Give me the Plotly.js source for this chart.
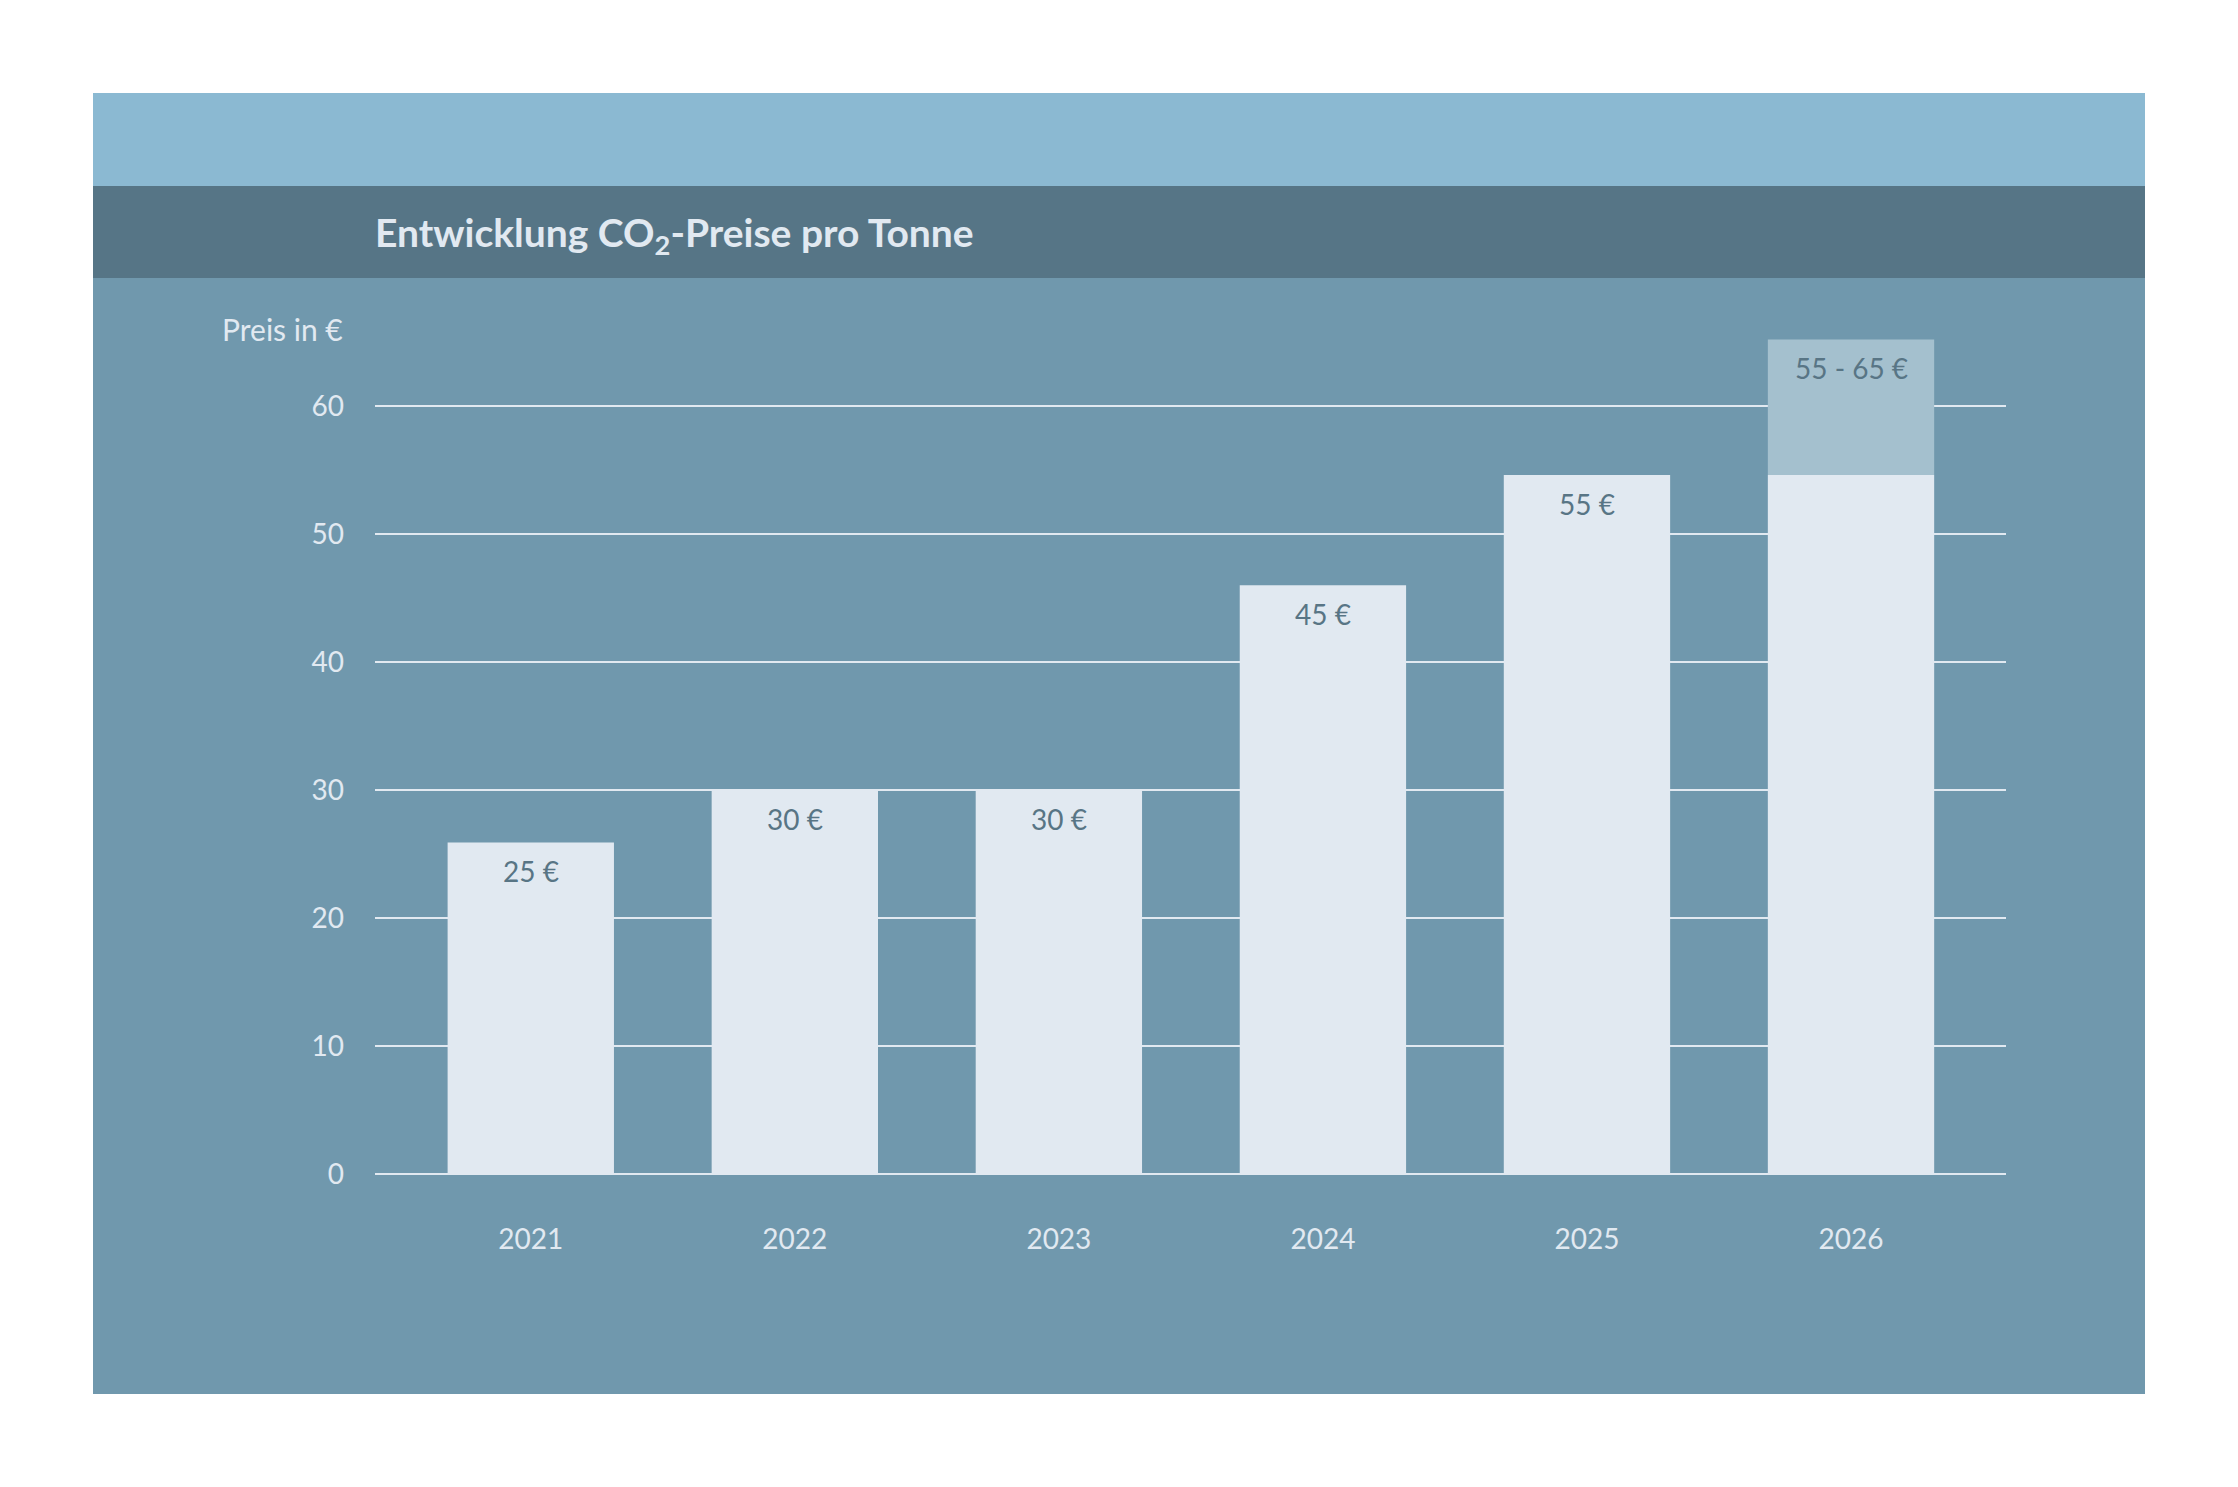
<!DOCTYPE html>
<html>
<head>
<meta charset="utf-8">
<script src="https://cdn.plot.ly/plotly-3.0.1.min.js"></script>
<style>
  html, body { margin: 0; padding: 0; background: #ffffff; }
  #chart { width: 2238px; height: 1487px; }
</style>
</head>
<body>
<div id="chart"></div>
<script>
// ---- data ----
const years = ['2021', '2022', '2023', '2024', '2025', '2026'];
const prices = [25.9, 30, 30, 46, 54.6, 54.6];
const priceLabels = ['25 €', '30 €', '30 €', '45 €', '55 €', ''];
const rangeYear = ['2026'];
const rangeLow = [54.6];
const rangeHigh = [65.2];
const rangeLabels = ['55 - 65 €'];
const yTickVals = [0, 10, 20, 30, 40, 50, 60];
const titleText = 'Entwicklung CO<sub>2</sub>-Preise pro Tonne';
const yAxisLabel = 'Preis in €';

// ---- geometry (pixels) ----
const W = 2238, H = 1487;
const PL = 375, PR = 2006, PT = 278, PB = 1174;
const pw = PR - PL, ph = PB - PT;
const px2x = p => (p - PL) / pw;
const px2y = p => (PB - p) / ph;

const FONT = 'Lato, "Source Sans Pro", "Open Sans", sans-serif';
const C_PANEL = '#7098ad';
const C_TOP = '#8bb9d2';
const C_TITLEBAND = '#567586';
const C_BAR = '#e1e9f1';
const C_RANGE = '#a4c0ce';
const C_LABEL = '#587585';
const C_LIGHT = '#e1e9f1';

const traces = [
  {
    type: 'bar', x: years, y: prices, width: 0.63,
    marker: { color: C_BAR, line: { width: 0 } },
    hoverinfo: 'skip', showlegend: false
  },
  {
    type: 'bar', x: rangeYear,
    y: rangeHigh.map((h, i) => h - rangeLow[i]),
    base: rangeLow, width: 0.63,
    marker: { color: C_RANGE, line: { width: 0 } },
    hoverinfo: 'skip', showlegend: false
  }
];

const annotations = [];
years.forEach((yr, i) => {
  if (!priceLabels[i]) return;
  annotations.push({
    x: i, y: prices[i], xref: 'x', yref: 'y',
    text: priceLabels[i], showarrow: false,
    xanchor: 'center', yanchor: 'middle', yshift: -29,
    font: { family: FONT, size: 28, color: C_LABEL }
  });
});
rangeYear.forEach((yr, i) => {
  annotations.push({
    x: years.indexOf(yr), y: rangeHigh[i], xref: 'x', yref: 'y',
    text: rangeLabels[i], showarrow: false,
    xanchor: 'center', yanchor: 'middle', yshift: -29,
    font: { family: FONT, size: 28, color: C_LABEL }
  });
});
annotations.push({
  xref: 'paper', yref: 'paper',
  x: px2x(345), y: px2y(329),
  xanchor: 'right', yanchor: 'middle',
  text: yAxisLabel, showarrow: false,
  font: { family: FONT, size: 30, color: C_LIGHT }
});

const shapes = [
  { type: 'rect', xref: 'paper', yref: 'paper', layer: 'below',
    x0: px2x(93), x1: px2x(2145), y0: px2y(1394), y1: px2y(93),
    fillcolor: C_PANEL, line: { width: 0 } },
  { type: 'rect', xref: 'paper', yref: 'paper', layer: 'below',
    x0: px2x(93), x1: px2x(2145), y0: px2y(186), y1: px2y(93),
    fillcolor: C_TOP, line: { width: 0 } },
  { type: 'rect', xref: 'paper', yref: 'paper', layer: 'below',
    x0: px2x(93), x1: px2x(2145), y0: px2y(278), y1: px2y(186),
    fillcolor: C_TITLEBAND, line: { width: 0 } }
];

const layout = {
  width: W, height: H,
  margin: { l: PL, r: W - PR, t: PT, b: H - PB, pad: 0 },
  paper_bgcolor: '#ffffff',
  plot_bgcolor: 'rgba(0,0,0,0)',
  barmode: 'overlay',
  title: {
    text: titleText,
    xref: 'paper', x: 0, xanchor: 'left',
    yref: 'container', y: 1 - 233 / H, yanchor: 'middle',
    font: { family: FONT, size: 39, color: C_LIGHT, weight: 700 }
  },
  xaxis: {
    type: 'category',
    range: [-0.59, 5.587],
    showgrid: false, zeroline: false, showline: false,
    ticks: '', ticklabelstandoff: 46,
    tickfont: { family: FONT, size: 28, color: C_LIGHT },
    fixedrange: true
  },
  yaxis: {
    range: [0, 70],
    tickvals: yTickVals,
    showgrid: true, gridcolor: C_LIGHT, gridwidth: 1.5,
    zeroline: true, zerolinecolor: C_LIGHT, zerolinewidth: 1.5,
    showline: false, ticks: '', ticklabelstandoff: 30,
    tickfont: { family: FONT, size: 28, color: C_LIGHT },
    fixedrange: true
  },
  shapes: shapes,
  annotations: annotations,
  showlegend: false
};

Plotly.newPlot('chart', traces, layout, { displayModeBar: false, staticPlot: true });
</script>
</body>
</html>
